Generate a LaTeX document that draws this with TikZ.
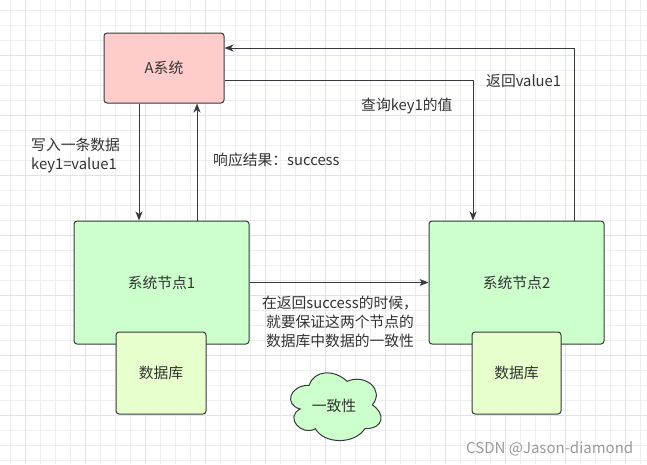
\documentclass[tikz,border=0pt]{standalone}
\usepackage{fontspec}
\setmainfont{Noto Sans CJK SC}
\usetikzlibrary{arrows.meta}
\definecolor{gminor}{HTML}{EEEEEE}
\definecolor{gmajor}{HTML}{E2E2E2}
\definecolor{edge}{HTML}{36393D}
\definecolor{txt}{HTML}{333333}
\definecolor{redfill}{HTML}{FFCCCC}
\definecolor{greenfill}{HTML}{CCFFCC}
\definecolor{dbfill}{HTML}{E6FFCC}
\definecolor{wm}{HTML}{9A9A9A}
\tikzset{
  box/.style={draw=edge, line width=1pt, rounded corners=3pt, text=txt, font=\fontsize{14.8}{18}\selectfont, inner sep=0pt},
  lbl/.style={text=txt, font=\fontsize{14.8}{19}\selectfont, inner sep=0pt},
  arr/.style={draw=edge, line width=1pt, -{Stealth[length=9pt,width=7pt,inset=2.5pt]}},
  plain/.style={draw=edge, line width=1pt},
}
\begin{document}
\begin{tikzpicture}[x=1pt,y=-1pt]
\useasboundingbox (0,0) rectangle (647,464);
\fill[white] (0,0) rectangle (647,464);
% grid
\foreach \i in {0,...,42} \draw[gminor, line width=0.8pt] (10.7+15*\i,0) -- (10.7+15*\i,464);
\foreach \i in {0,...,30} \draw[gminor, line width=0.8pt] (0,10+15*\i) -- (647,10+15*\i);
\foreach \i in {0,...,10} \draw[gmajor, line width=1pt] (25.7+60*\i,0) -- (25.7+60*\i,464);
\foreach \i in {0,...,7} \draw[gmajor, line width=1pt] (0,55+60*\i) -- (647,55+60*\i);

% nodes
\node[box, fill=redfill, minimum width=120pt, minimum height=70pt] (A) at (164,68) {A系统};
\node[box, fill=greenfill, minimum width=175pt, minimum height=123pt] (N1) at (161.5,282.5) {系统节点1};
\node[box, fill=greenfill, minimum width=175pt, minimum height=123pt] (N2) at (516.5,282.5) {系统节点2};
\node[box, fill=dbfill, minimum width=90pt, minimum height=82pt] (D1) at (161,373) {数据库};
\node[box, fill=dbfill, minimum width=89pt, minimum height=82pt] (D2) at (516.5,373) {数据库};

% cloud
\draw[draw=edge, line width=1pt, fill=greenfill, shift={(284,365.5)}, xscale=101, yscale=79]
  (0.25,0.25) .. controls (0.05,0.25) and (0,0.5) .. (0.16,0.55)
  .. controls (0,0.66) and (0.18,0.9) .. (0.31,0.8)
  .. controls (0.4,1) and (0.7,1) .. (0.8,0.8)
  .. controls (1,0.8) and (1,0.6) .. (0.875,0.5)
  .. controls (1,0.3) and (0.8,0.1) .. (0.625,0.2)
  .. controls (0.5,0.05) and (0.3,0.05) .. (0.25,0.25) -- cycle;
\node[lbl] (C) at (334,406) {一致性};

% helper coordinates
\coordinate (c1) at (139,0);
\coordinate (c2) at (197,0);
\coordinate (c3) at (473,0);
\coordinate (c4) at (574,0);
\coordinate (r1) at (0,80);
\coordinate (r2) at (0,48);

% connectors
\draw[arr] (c1 |- A.south) -- (c1 |- N1.north);
\draw[arr] (c2 |- N1.north) -- (c2 |- A.south);
\draw[arr] (A.east |- r1) -- (c3 |- r1) -- (c3 |- N2.north);
\draw[arr] (c4 |- N2.north) -- (c4 |- r2) -- (A.east |- r2);
\draw[arr] (N1.east) -- (N2.west);

% labels
\node[lbl, anchor=west, align=left] (L1) at (31,155.5) {写入一条数据\\key1=value1};
\node[lbl, anchor=west] (L2) at (213,160) {响应结果：success};
\node[lbl, anchor=west] (L3) at (361,106) {查询key1的值};
\node[lbl, anchor=west] (L4) at (486,81) {返回value1};
\node[lbl, align=center] (L5) at (340,322) {在返回success的时候，\\就要保证这两个节点的\\数据库中数据的一致性};

\node[text=wm, font=\fontsize{15}{16}\selectfont, inner sep=0pt, anchor=west] (W) at (466,449) {CSDN @Jason-diamond};
\end{tikzpicture}
\end{document}
